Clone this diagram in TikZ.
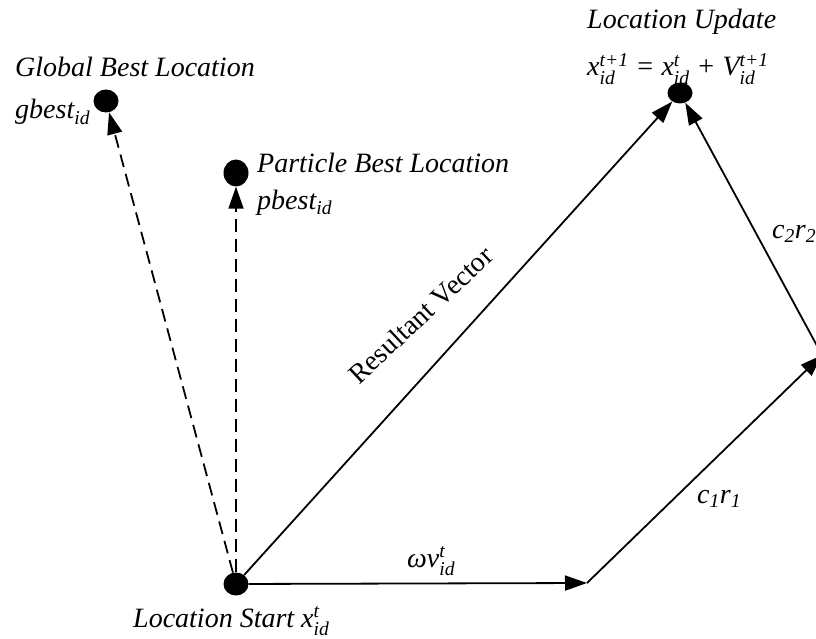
\documentclass[tikz,border=0pt]{standalone}
\usepackage{fontspec}
\usepackage{amsmath}
\setmainfont{Liberation Serif}
\usetikzlibrary{arrows.meta,shapes.geometric}
\newcommand\vsym[3]{\textit{#1}$^{#2}_{\textit{#3}}$}
\newcommand\tpo{\textit{t}\text{+1}}
\begin{document}
\begin{tikzpicture}[x=1pt,y=-1pt,
  dot/.style={ellipse,fill=black,minimum width=25pt,minimum height=23pt,inner sep=0pt},
  vec/.style={line width=1.8pt,-{Triangle[length=22pt,width=15pt]}},
  dvec/.style={vec,dash pattern=on 13pt off 7pt},
  lbl/.style={font=\fontsize{28}{30}\selectfont\itshape,inner sep=0pt,anchor=base west}]
\useasboundingbox (0,0) rectangle (816,639);
\node[dot] (start) at (236,584) {};
\node[dot,minimum height=27pt] (pbest) at (236,173) {};
\node[dot] (gbest) at (106,101) {};
\node[dot,minimum height=21pt] (upd) at (680,93) {};
\coordinate (m1) at (587,583);
\coordinate (m2) at (822,355);
\draw[vec] (start) -- (m1);
\draw[vec] (m1) -- (m2);
\draw[vec] (m2) -- (upd);
\draw[vec] (start) -- (upd);
\draw[dvec] (start) -- (gbest);
\draw[dvec] (start) -- (pbest);
\node[lbl] (tg) at (15,77) {Global Best Location};
\node[lbl] (tg2) at (15,119) {gbest$_{\textit{id}}$};
\node[lbl] (tp) at (257,173) {Particle Best Location};
\node[lbl] (tp2) at (257,209) {pbest$_{\textit{id}}$};
\node[lbl] (tu) at (587,29) {Location Update};
\node[lbl] (tu2) at (587,76) {\vsym{x}{\tpo}{id} = \vsym{x}{\textit{t}}{id} + \vsym{V}{\tpo}{id}};
\node[lbl] (ts) at (133,627) {Location Start \vsym{x}{\textit{t}}{id}};
\node[lbl] (tw) at (407,567) {\vsym{ωv}{\textit{t}}{id}};
\node[lbl] (tc1) at (697,503) {\textit{c}$_{\text{1}}$\textit{r}$_{\text{1}}$};
\node[lbl] (tc2) at (772,238) {\textit{c}$_{\text{2}}$\textit{r}$_{\text{2}}$};
\node[lbl,font=\fontsize{28}{30}\selectfont,anchor=base,rotate=43] (tr) at (427,322) {Resultant Vector};
\end{tikzpicture}
\end{document}
